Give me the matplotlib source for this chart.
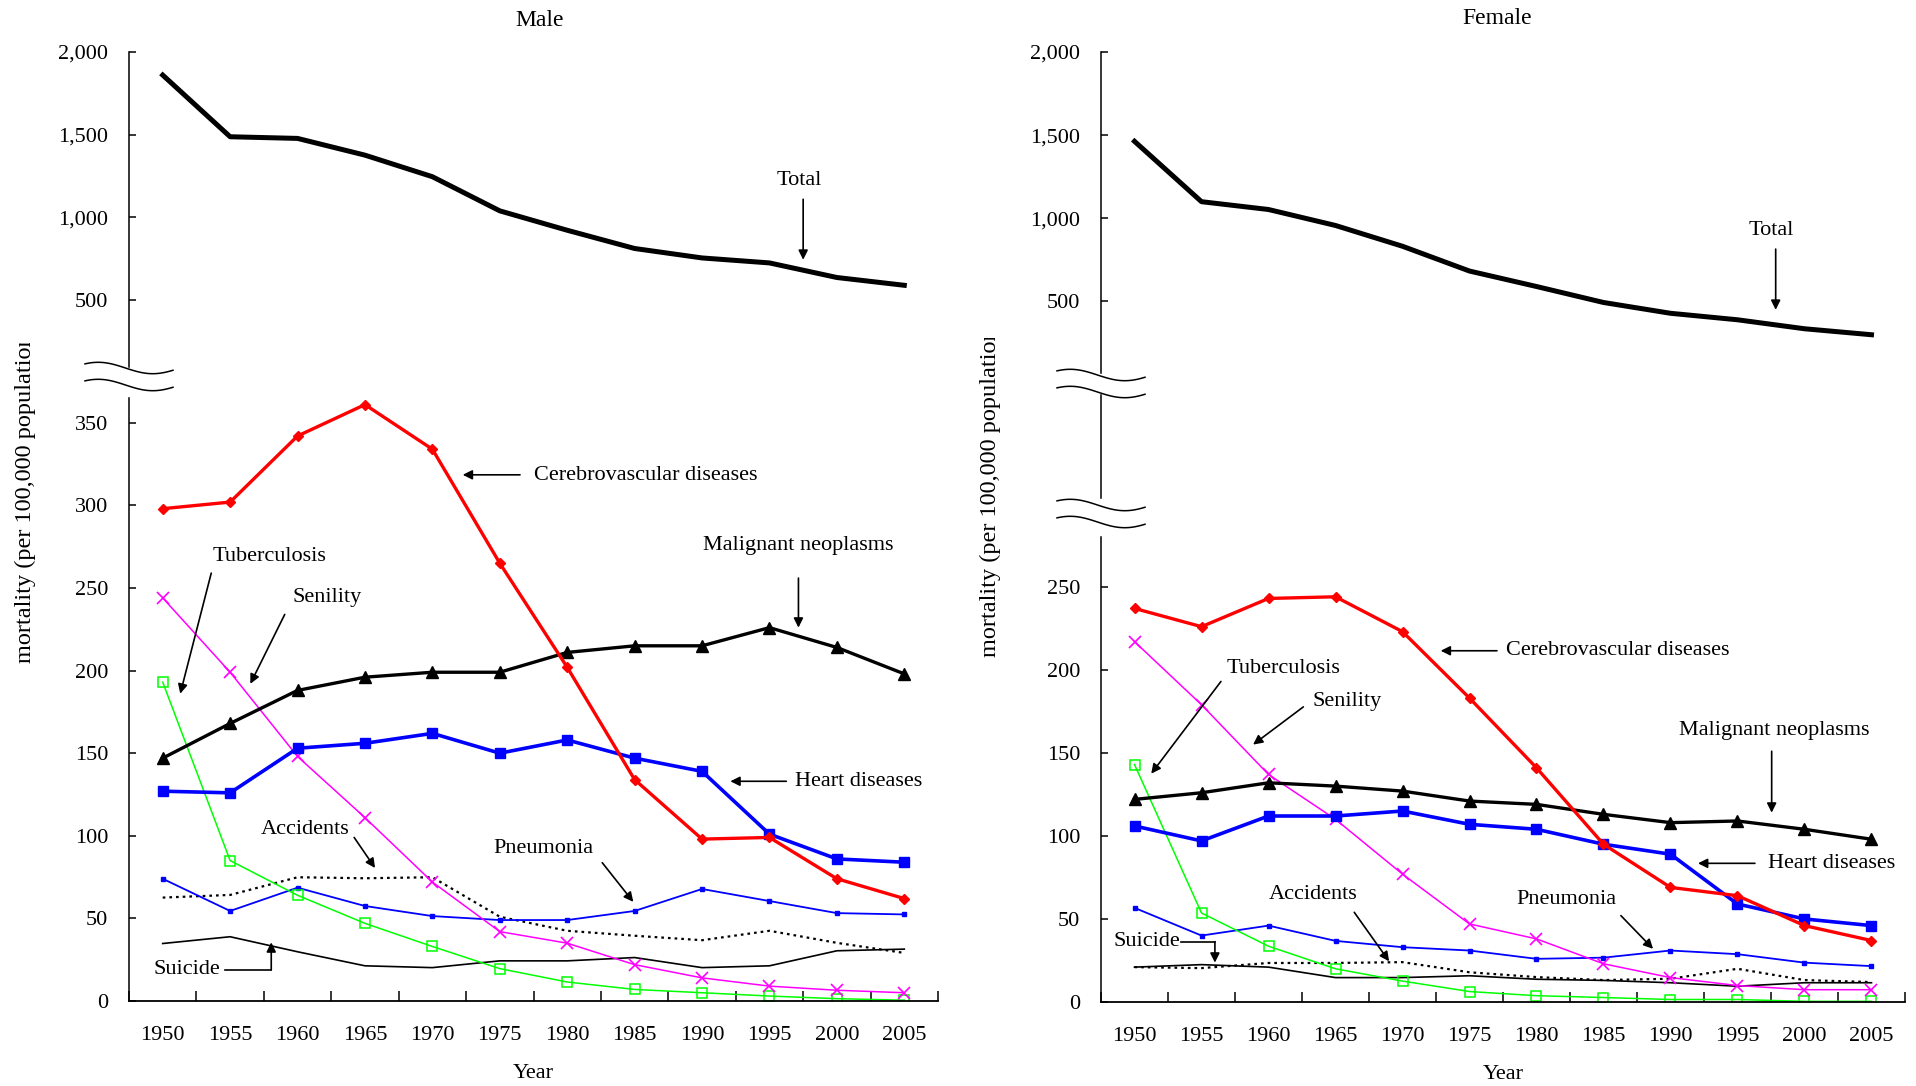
import numpy as np
import matplotlib
matplotlib.use("Agg")
import matplotlib.pyplot as plt
from matplotlib.lines import Line2D
from matplotlib.transforms import Bbox

plt.rcParams['font.family'] = ['Liberation Serif', 'DejaVu Serif']
plt.rcParams['font.size'] = 16

years = [1950, 1955, 1960, 1965, 1970, 1975, 1980, 1985, 1990, 1995, 2000, 2005]

# deaths per 100,000 population
male_total = [1859, 1487, 1477, 1376, 1246, 1040, 923, 813, 756, 726, 638, 591]
male_cerebro = [298, 302, 342, 361, 334, 265, 202, 134, 98, 99, 74, 62]
male_neoplasm = [147, 168, 188, 196, 199, 199, 211, 215, 215, 226, 214, 198]
male_heart = [127, 126, 153, 156, 162, 150, 158, 147, 139, 101, 86, 84]
male_senility = [244, 199, 148, 111, 72, 42, 35, 22, 14, 9, 6.5, 5]
male_tb = [193, 85, 64, 47, 33, 19.6, 11.5, 7, 5, 3, 1.4, 0.5]
male_pneumonia = [74, 54.5, 68.6, 57.5, 51.4, 49, 49, 54.5, 67.8, 60.5, 53.2, 52.4]
male_accidents = [62.6, 64.2, 74.9, 74.3, 74.9, 51, 42.5, 39.5, 36.8, 42.5, 35.2, 29.1]
male_suicide = [34.8, 38.9, 29.8, 21.3, 20.2, 24.3, 24.3, 26.3, 20.2, 21.3, 30.4, 31.4]

female_total = [1463, 1100, 1053, 957, 832, 683, 590, 494, 429, 390, 336, 300]
female_cerebro = [237, 226, 243, 244, 223, 183, 141, 95, 69, 64, 46, 37]
female_neoplasm = [122, 126, 132, 130, 127, 121, 119, 113, 108, 109, 104, 98]
female_heart = [106, 97, 112, 112, 115, 107, 104, 95, 89, 59, 50, 46]
female_senility = [217, 179, 137, 110, 77, 47, 38, 23, 14.7, 9.9, 7.4, 7.4]
female_tb = [143, 53.6, 33.6, 20, 12.6, 6.3, 3.8, 2.7, 1.5, 1.5, 0.4, 0.4]
female_pneumonia = [56.7, 40, 46, 36.8, 33, 31, 26, 26.7, 31, 28.8, 23.7, 21.6]
female_accidents = [21, 20.4, 23.5, 23.5, 24, 17.9, 15, 13.2, 14, 20, 13.2, 12]
female_suicide = [21, 22.5, 21, 14.7, 14.7, 15.8, 13.7, 13, 11.6, 9.5, 11.6, 11.6]

W, H = 1916, 1086
fig = plt.figure(figsize=(W / 100, H / 100), dpi=100)
x = np.arange(len(years))


def rect(x0, x1, top, bottom):
    return [x0 / W, 1 - bottom / H, (x1 - x0) / W, (bottom - top) / H]


def style_axis(ax, bottom=False):
    for s in ['top', 'right']:
        ax.spines[s].set_visible(False)
    ax.spines['left'].set_linewidth(1.1)
    ax.spines['bottom'].set_visible(bottom)
    ax.set_xlim(-0.5, len(years) - 0.5)
    ax.tick_params(axis='y', direction='in', length=5, width=1.1, pad=15, labelsize=16)
    if bottom:
        ax.spines['bottom'].set_linewidth(1.3)
        ax.set_xticks(np.arange(len(years) + 1) - 0.5)
        ax.set_xticklabels([])
        ax.set_xticks(x, minor=True)
        ax.set_xticklabels([str(y) for y in years], minor=True)
        ax.tick_params(axis='x', which='major', direction='in', length=7, width=1.1)
        ax.tick_params(axis='x', which='minor', length=0, pad=18, labelsize=16)
    else:
        ax.set_xticks([])


def wave(cx, cy, width=88, amp=5.7):
    t = np.linspace(0, 1, 60)
    xs = cx - width / 2 + t * width
    ys = cy - amp * np.cos(np.pi * (t - 0.15) / 0.62)
    fig.add_artist(Line2D(xs / W, 1 - ys / H, transform=fig.transFigure, color='black', lw=1.1))


def arrow(ax, tail, head):
    ax.annotate('', xy=head, xytext=tail,
                arrowprops=dict(arrowstyle='-|>', color='black', lw=1.2, mutation_scale=14,
                                shrinkA=0, shrinkB=0))


def draw_lower(ax, cerebro, neoplasm, heart, senility, tb, pneumonia, accidents, suicide):
    ax.plot(x, suicide, color='black', lw=1.2)
    ax.plot(x, accidents, color='black', lw=1.6, ls=(0, (1.2, 1.8)))
    ax.plot(x, pneumonia, color='#0000FF', lw=1.3, marker='s', ms=3)
    ax.plot(x, tb, color='#00FF00', lw=1.1, marker='s', ms=7, mfc='none', mew=1.1)
    ax.plot(x, senility, color='#FF00FF', lw=1.1, marker='x', ms=9, mew=1.2)
    ax.plot(x, heart, color='#0000FF', lw=2.6, marker='s', ms=7)
    ax.plot(x, neoplasm, color='black', lw=2.4, marker='^', ms=8)
    ax.plot(x, cerebro, color='#FF0000', lw=2.4, marker='D', ms=5.5)


def ylabel(xc, bottom, clip_top):
    # the label runs past the top of its frame and gets cut there
    t = fig.text(xc / W, 1 - bottom / H, 'mortality (per 100,000 population)', rotation=90,
                 ha='center', va='bottom', fontsize=17.5)
    t.set_clip_on(True)
    t.set_clip_box(Bbox.from_extents(0, 0, W, H - clip_top))


# ---- Male ----
m_up = fig.add_axes(rect(129, 938, 51.7, 366.7))
m_up.plot(x, male_total, color='black', lw=3.6)
m_up.set_ylim(100, 2000)
m_up.set_yticks([500, 1000, 1500, 2000])
m_up.set_yticklabels(['500', '1,000', '1,500', '2,000'])
style_axis(m_up)
m_up.text(9.44, 1225, 'Total', ha='center', va='center')
arrow(m_up, (9.5, 1110), (9.5, 745))

m_lo = fig.add_axes(rect(129, 938, 398, 1001))
draw_lower(m_lo, male_cerebro, male_neoplasm, male_heart, male_senility, male_tb,
           male_pneumonia, male_accidents, male_suicide)
m_lo.set_ylim(0, 365)
m_lo.set_yticks(np.arange(0, 351, 50))
style_axis(m_lo, bottom=True)
m_lo.set_xlabel('Year', labelpad=14, fontsize=16)

m_lo.text(5.5, 318, 'Cerebrovascular diseases', ha='left', va='center')
arrow(m_lo, (5.3, 318.5), (4.45, 318.5))
m_lo.text(9.43, 276, 'Malignant neoplasms', ha='center', va='center')
arrow(m_lo, (9.43, 256), (9.43, 226))
m_lo.text(1.58, 269, 'Tuberculosis', ha='center', va='center')
arrow(m_lo, (0.72, 259), (0.26, 186))
m_lo.text(2.44, 244.5, 'Senility', ha='center', va='center')
arrow(m_lo, (1.81, 234), (1.3, 192))
m_lo.text(9.38, 133, 'Heart diseases', ha='left', va='center')
arrow(m_lo, (9.25, 133), (8.42, 133))
m_lo.text(2.11, 104, 'Accidents', ha='center', va='center')
arrow(m_lo, (2.84, 99), (3.15, 80.5))
m_lo.text(5.64, 92.5, 'Pneumonia', ha='center', va='center')
arrow(m_lo, (6.52, 83.7), (6.98, 60))
m_lo.text(0.36, 18.8, 'Suicide', ha='center', va='center')
m_lo.plot([0.93, 1.61], [18.8, 18.8], color='black', lw=1.2)
arrow(m_lo, (1.61, 18.8), (1.61, 35.5))

wave(129, 368)
wave(129, 385)
ylabel(25, 663, 343)
fig.text(540 / W, 1 - 21 / H, 'Male', ha='center', va='center', fontsize=17)

# ---- Female ----
f_up = fig.add_axes(rect(1101, 1905, 52, 373))
f_up.plot(x, female_total, color='black', lw=3.6)
f_up.set_ylim(70, 2000)
f_up.set_yticks([500, 1000, 1500, 2000])
f_up.set_yticklabels(['500', '1,000', '1,500', '2,000'])
style_axis(f_up)
f_up.text(9.5, 925, 'Total', ha='center', va='center')
arrow(f_up, (9.57, 815), (9.57, 450))

f_mid = fig.add_axes(rect(1101, 1905, 395, 498))
style_axis(f_mid)
f_mid.set_yticks([])

f_lo = fig.add_axes(rect(1101, 1905, 537, 1002))
draw_lower(f_lo, female_cerebro, female_neoplasm, female_heart, female_senility, female_tb,
           female_pneumonia, female_accidents, female_suicide)
f_lo.set_ylim(0, 280)
f_lo.set_yticks(np.arange(0, 251, 50))
style_axis(f_lo, bottom=True)
f_lo.set_xlabel('Year', labelpad=14, fontsize=16)

f_lo.text(5.54, 211.5, 'Cerebrovascular diseases', ha='left', va='center')
arrow(f_lo, (5.41, 211.5), (4.57, 211.5))
f_lo.text(9.55, 163.5, 'Malignant neoplasms', ha='center', va='center')
arrow(f_lo, (9.51, 151), (9.51, 114))
f_lo.text(2.22, 201, 'Tuberculosis', ha='center', va='center')
arrow(f_lo, (1.29, 193), (0.25, 137.5))
f_lo.text(3.18, 180.7, 'Senility', ha='center', va='center')
arrow(f_lo, (2.52, 177.7), (1.77, 155))
f_lo.text(9.46, 83.5, 'Heart diseases', ha='left', va='center')
arrow(f_lo, (9.26, 83.5), (8.41, 83.5))
f_lo.text(2.66, 65, 'Accidents', ha='center', va='center')
arrow(f_lo, (3.28, 54), (3.8, 24.5))
f_lo.text(6.44, 62, 'Pneumonia', ha='center', va='center')
arrow(f_lo, (7.26, 52), (7.74, 32))
f_lo.text(0.19, 36.3, 'Suicide', ha='center', va='center')
f_lo.plot([0.69, 1.2], [36.3, 36.3], color='black', lw=1.2)
arrow(f_lo, (1.2, 36.3), (1.2, 23.7))

wave(1101, 375)
wave(1101, 392)
wave(1101, 505)
wave(1101, 522)
ylabel(990, 657, 338)
fig.text(1497 / W, 1 - 18 / H, 'Female', ha='center', va='center', fontsize=17)

fig.savefig('out.png', dpi=100)
